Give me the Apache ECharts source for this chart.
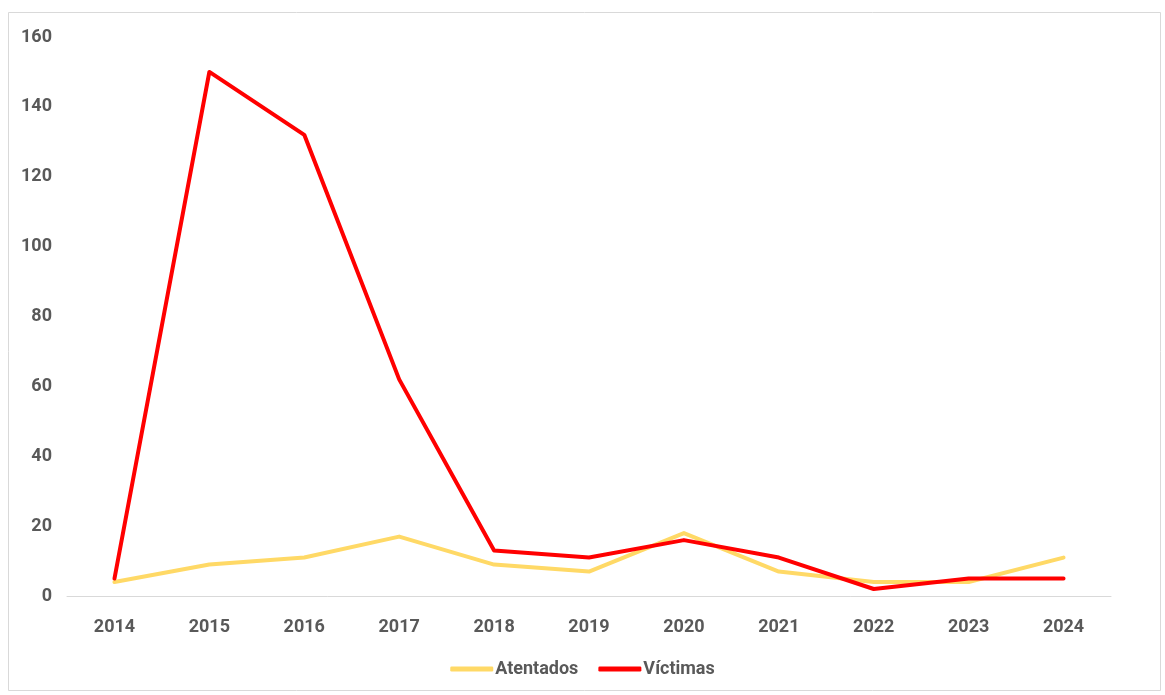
<!DOCTYPE html>
<html><head><meta charset="utf-8">
<script src="https://cdn.jsdelivr.net/npm/echarts@6/dist/echarts.min.js"></script>
<style>html,body{margin:0;padding:0;background:#fff}#c{width:1165px;height:695px}</style>
</head><body><div id="c"></div>
<script>
const years = ['2014','2015','2016','2017','2018','2019','2020','2021','2022','2023','2024'];
const atentados = [4, 9, 11, 17, 9, 7, 18, 7, 4, 4, 11];
const victimas = [5, 150, 132, 62, 13, 11, 16, 11, 2, 5, 5];
const yTicks = [0, 20, 40, 60, 80, 100, 120, 140, 160];

const FONT = 'Roboto, "DejaVu Sans", sans-serif';
const FW = 'bold';
const FS = 18;
const chart = echarts.init(document.getElementById('c'), null, {renderer: 'canvas'});
chart.setOption({
  animation: false,
  backgroundColor: '#fff',
  graphic: [{
    type: 'rect', left: 8, top: 12, z: -1,
    shape: {width: 1152, height: 678},
    style: {fill: '#fff', stroke: '#d9d9d9', lineWidth: 1}
  }],
  grid: {left: 67, right: 54, top: 37, bottom: 99, containLabel: false},
  legend: {
    bottom: 12, left: 'center',
    itemWidth: 43, itemHeight: 5, itemGap: 20,
    icon: 'roundRect',
    textStyle: {fontFamily: FONT, fontWeight: FW, fontSize: FS, color: '#595959', padding: [0,0,0,-3]},
    data: ['Atentados', 'Víctimas']
  },
  xAxis: {
    type: 'category', data: years, boundaryGap: true,
    axisLine: {lineStyle: {color: '#d9d9d9', width: 1}},
    axisTick: {show: false},
    axisLabel: {fontFamily: FONT, fontWeight: FW, fontSize: FS, color: '#595959', margin: 22}
  },
  yAxis: {
    type: 'value', min: yTicks[0], max: yTicks[yTicks.length-1], interval: 20,
    axisLine: {show: false}, axisTick: {show: false},
    splitLine: {show: false},
    axisLabel: {fontFamily: FONT, fontWeight: FW, fontSize: FS, color: '#595959', margin: 15}
  },
  series: [
    {name: 'Atentados', type: 'line', data: atentados, showSymbol: false, symbol: 'none',
     lineStyle: {color: '#FFD966', width: 4, join: 'round', cap: 'round'}, itemStyle: {color: '#FFD966'}},
    {name: 'Víctimas', type: 'line', data: victimas, showSymbol: false, symbol: 'none',
     lineStyle: {color: '#FF0000', width: 4, join: 'round', cap: 'round'}, itemStyle: {color: '#FF0000'}}
  ]
});
</script></body></html>
